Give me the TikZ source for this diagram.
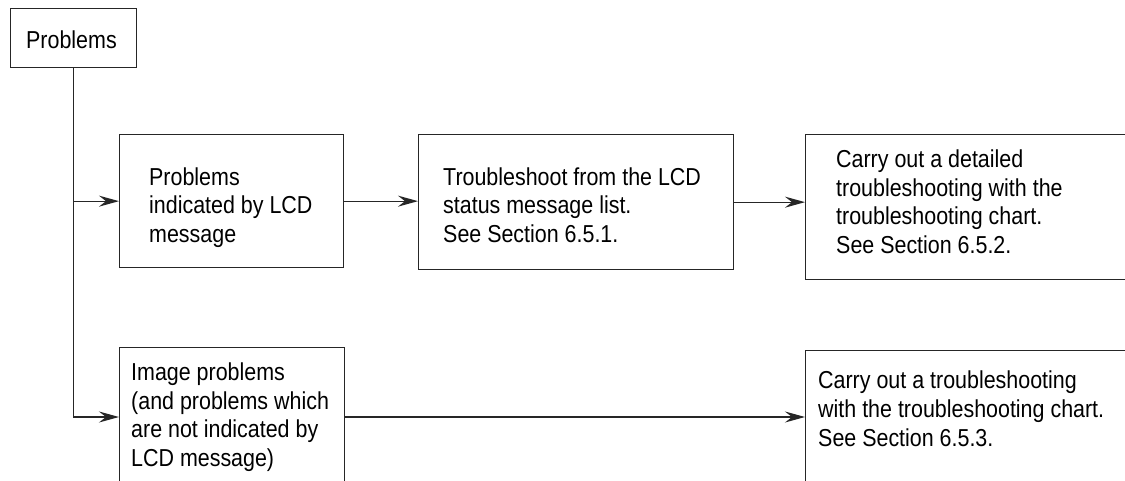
\documentclass[tikz,border=0pt]{standalone}
\usepackage{fontspec}
\setmainfont{Liberation Sans}[FakeStretch=0.875]
\usetikzlibrary{arrows.meta}
\begin{document}
\begin{tikzpicture}[x=1pt,y=-1pt,
  box/.style={draw=black!85, line width=1.3pt, inner sep=0pt, anchor=north west},
  txt/.style={anchor=base west, inner sep=0pt, align=left, font=\fontsize{24.5}{28.7}\selectfont, text=black},
  conn/.style={draw=black!85, line width=1.3pt},
  arr/.style={conn, -{Stealth[length=20pt,width=11pt,inset=7pt]}}]
\fill[white] (0,0) rectangle (1125,480);
\clip (0,0) rectangle (1125,480);
\node[box, minimum width=126pt, minimum height=59pt] (p) at (10,8) {};
\node[box, minimum width=224pt, minimum height=133pt] (b1) at (119,134) {};
\node[box, minimum width=315pt, minimum height=135pt] (b2) at (418,134) {};
\node[box, minimum width=400pt, minimum height=145pt] (b3) at (805,134) {};
\node[box, minimum width=225pt, minimum height=200pt] (b4) at (119,347) {};
\node[box, minimum width=400pt, minimum height=200pt] (b5) at (805,350) {};
\node[txt] (tp) at (26,48) {Problems};
\node[txt] (t1) at (149,242.4) {Problems\\indicated by LCD\\message};
\node[txt] (t2) at (443,242.4) {Troubleshoot from the LCD\\status message list.\\See Section 6.5.1.};
\node[txt] (t3) at (836,253.5) {Carry out a detailed\\troubleshooting with the\\troubleshooting chart.\\See Section 6.5.2.};
\node[txt] (t4) at (131,466.5) {Image problems\\(and problems which\\are not indicated by\\LCD message)};
\node[txt] (t5) at (818,446) {Carry out a troubleshooting\\with the troubleshooting chart.\\See Section 6.5.3.};
\coordinate (r2) at (0,417);
\draw[arr] (p.south) |- (b1.west);
\draw[arr] (p.south) |- (b4.west |- r2);
\draw[arr] (b1.east) -- (b2.west |- b1.east);
\draw[arr] (b2.east) -- (b3.west |- b2.east);
\draw[arr] (b4.east |- r2) -- (b5.west |- r2);
\end{tikzpicture}
\end{document}
